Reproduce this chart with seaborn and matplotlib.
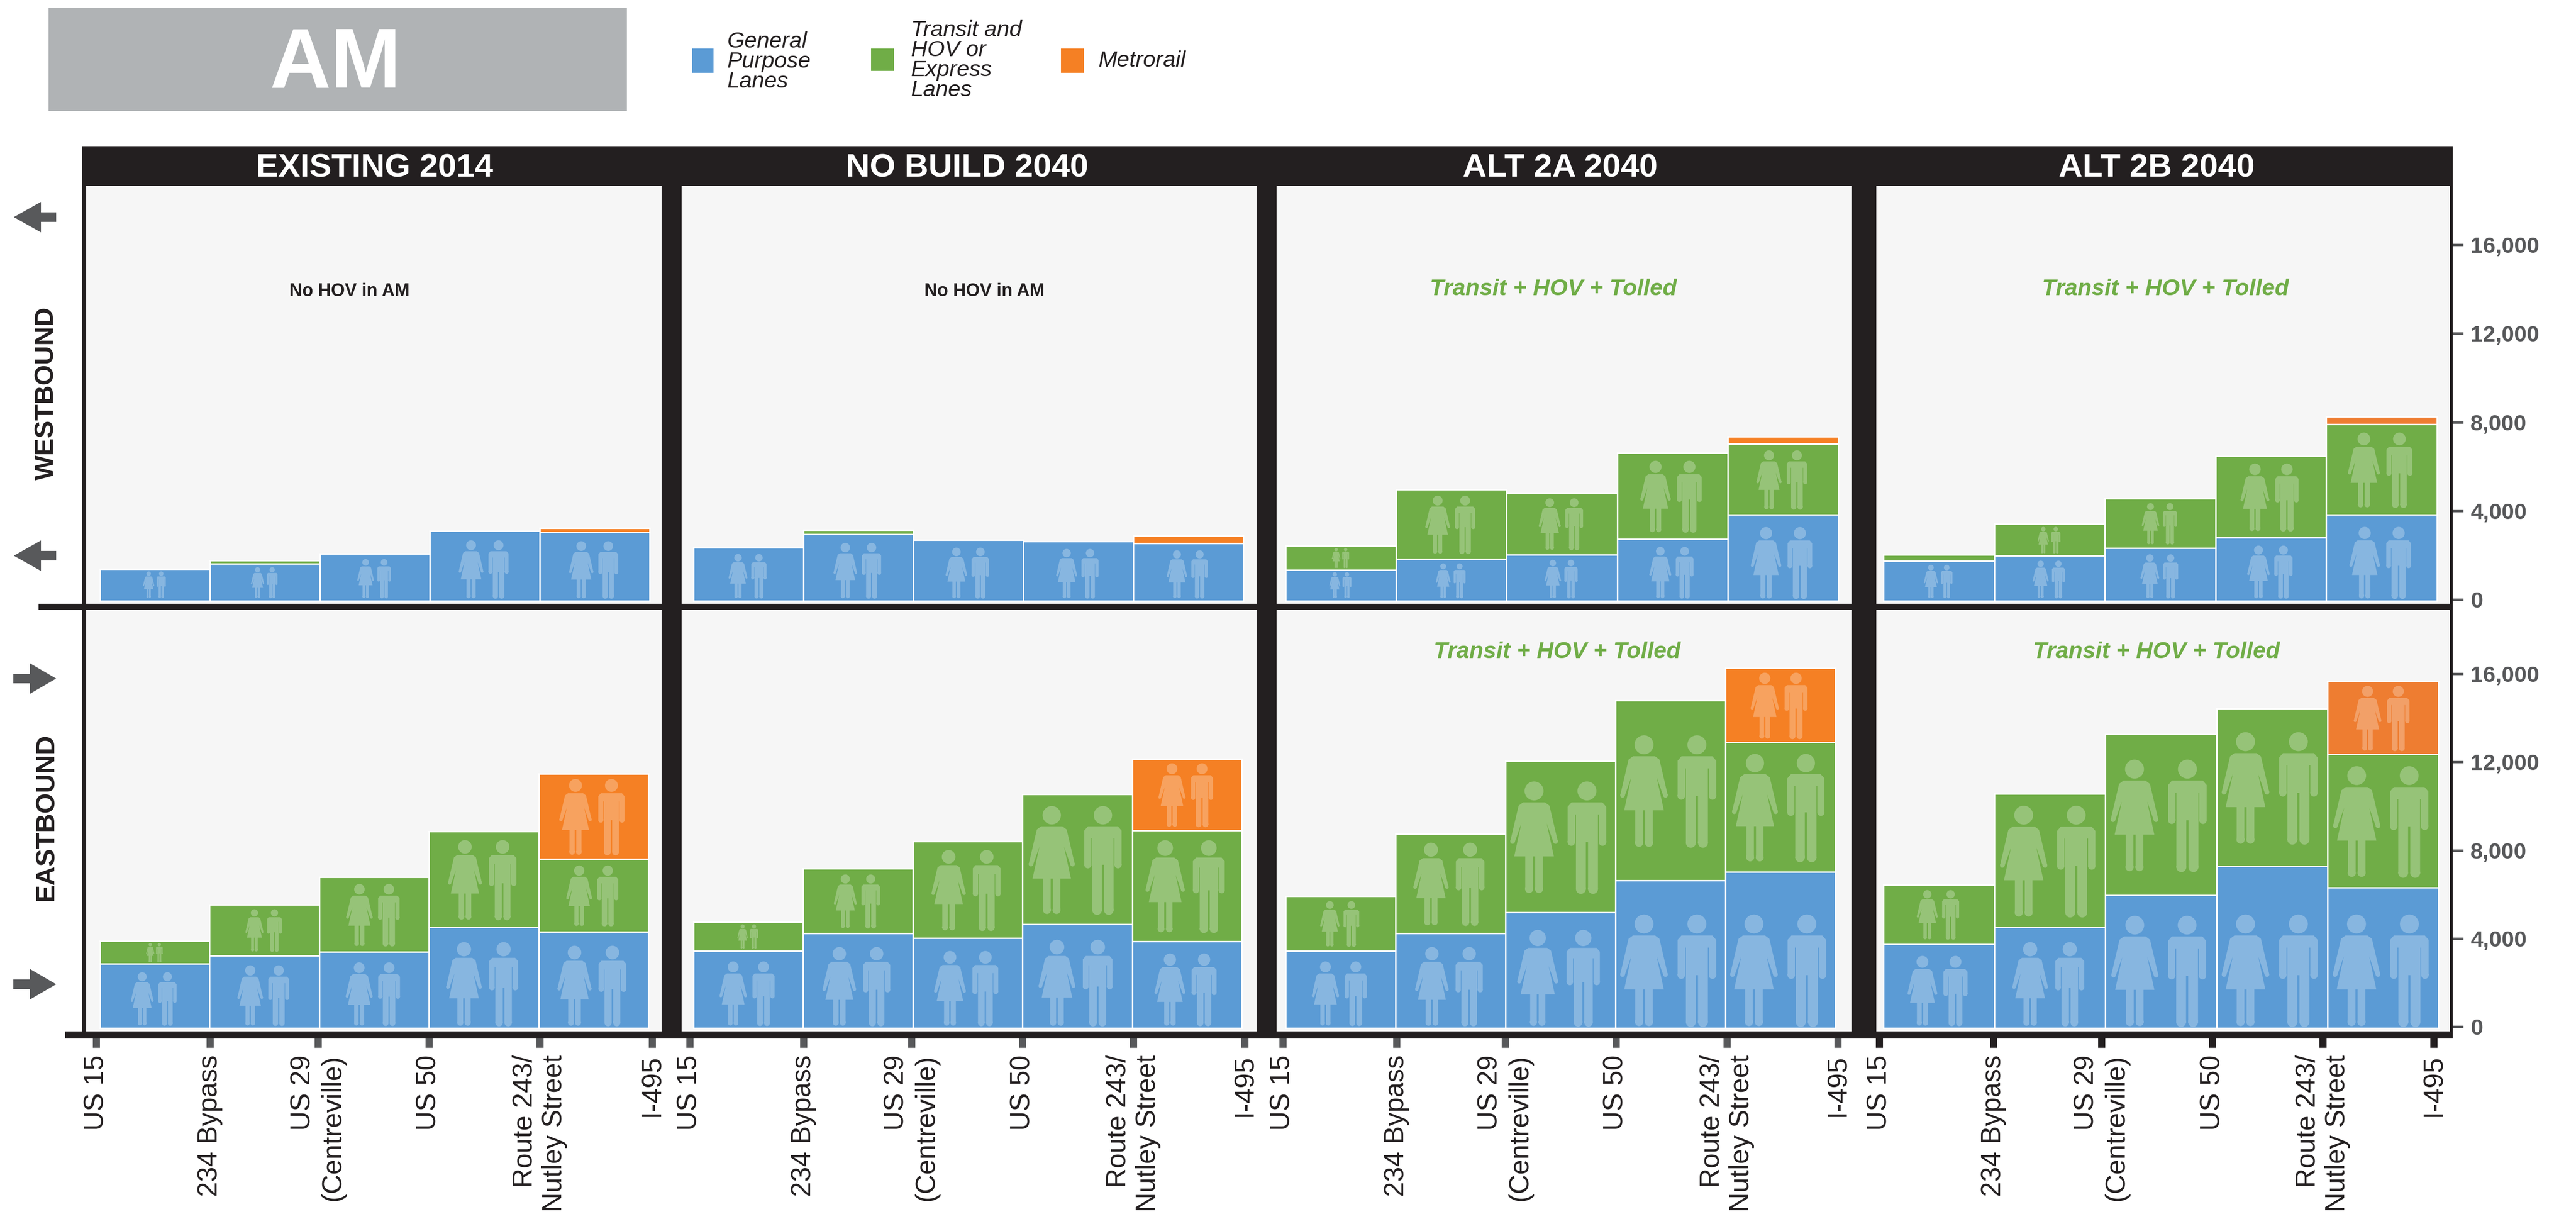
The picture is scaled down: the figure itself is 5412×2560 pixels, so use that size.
import pandas as pd
import numpy as np
import matplotlib.pyplot as plt
import matplotlib.patheffects as pe
import seaborn as sns
from matplotlib.patches import Rectangle, Polygon, PathPatch
from matplotlib.path import Path
from matplotlib.transforms import Affine2D

# road segments between the tick marks
segments = ["s1", "s2", "s3", "s4", "s5"]
tick_labels = ["US 15", "234 Bypass", "US 29\n(Centreville)", "US 50", "Route 243/\nNutley Street", "I-495"]
scenarios = ["EXISTING 2014", "NO BUILD 2040", "ALT 2A 2040", "ALT 2B 2040"]
y_ticks = [0, 4000, 8000, 12000, 16000]
y_labels = ["0", "4,000", "8,000", "12,000", "16,000"]

# westbound people per peak period
wb_existing_gp = [1440, 1675, 2120, 3150, 3100]
wb_existing_hov = [0, 150, 0, 0, 0]
wb_existing_metro = [0, 0, 0, 0, 180]
wb_nobuild_gp = [2400, 3010, 2750, 2680, 2600]
wb_nobuild_hov = [0, 190, 0, 0, 0]
wb_nobuild_metro = [0, 0, 0, 0, 345]
wb_2a_gp = [1400, 1880, 2080, 2790, 3880]
wb_2a_hov = [1090, 3150, 2800, 3880, 3200]
wb_2a_metro = [0, 0, 0, 0, 340]
wb_2b_gp = [1810, 2035, 2380, 2860, 3890]
wb_2b_hov = [270, 1435, 2230, 3665, 4070]
wb_2b_metro = [0, 0, 0, 0, 360]

# eastbound
eb_existing_gp = [2905, 3285, 3450, 4570, 4370]
eb_existing_hov = [1045, 2310, 3390, 4345, 3300]
eb_existing_metro = [0, 0, 0, 0, 3860]
eb_nobuild_gp = [3500, 4300, 4080, 4700, 3940]
eb_nobuild_hov = [1320, 2930, 4390, 5900, 5030]
eb_nobuild_metro = [0, 0, 0, 0, 3230]
eb_2a_gp = [3500, 4300, 5250, 6695, 7090]
eb_2a_hov = [2480, 4515, 6870, 8165, 5870]
eb_2a_metro = [0, 0, 0, 0, 3360]
eb_2b_gp = [3810, 4570, 6030, 7350, 6370]
eb_2b_hov = [2690, 6060, 7290, 7140, 6050]
eb_2b_metro = [0, 0, 0, 0, 3300]

wb_data = [(wb_existing_gp, wb_existing_hov, wb_existing_metro),
           (wb_nobuild_gp, wb_nobuild_hov, wb_nobuild_metro),
           (wb_2a_gp, wb_2a_hov, wb_2a_metro),
           (wb_2b_gp, wb_2b_hov, wb_2b_metro)]
eb_data = [(eb_existing_gp, eb_existing_hov, eb_existing_metro),
           (eb_nobuild_gp, eb_nobuild_hov, eb_nobuild_metro),
           (eb_2a_gp, eb_2a_hov, eb_2a_metro),
           (eb_2b_gp, eb_2b_hov, eb_2b_metro)]

# colours
BLUE = "#5b9bd5"
GREEN = "#70ad47"
ORANGE = "#f58024"
ORANGE_2B = "#ee7d31"
DARK = "#231f20"
GREY = "#58595b"
PANEL = "#f6f6f6"

# layout in pixels of the 5412x2560 picture
W, H = 5412, 2560
panel_x = [(181, 1390), (1432, 2640), (2682, 3891), (3942, 5147)]
bars_top = [(210, 1365), (1457, 2612), (2701, 3862), (3957, 5120)]
bars_bot = [(210, 1362), (1457, 2609), (2701, 3856), (3957, 5123)]
ticks_px = [[202, 441, 668, 901, 1134, 1370],
            [1449, 1688, 1915, 2148, 2381, 2615],
            [2695, 2934, 3162, 3395, 3628, 3861],
            [3948, 4188, 4415, 4648, 4880, 5113]]
# top, bottom, bar base, zero tick, px per unit
row_top = (390, 1268, 1262, 1259, 0.04656)
row_bot = (1281, 2166, 2159, 2156, 0.0463)

sns.set_theme(style="white")
plt.rcParams["font.family"] = ["Liberation Sans", "DejaVu Sans"]

fig = plt.figure(figsize=(W / 100, H / 100), dpi=100, facecolor="white")

# overlay in pixel coordinates for frame, arrows, legend
frame = fig.add_axes([0, 0, 1, 1], zorder=10)
frame.set_xlim(0, W)
frame.set_ylim(H, 0)
frame.axis("off")


def box(x0, y0, x1, y1, color=DARK):
    frame.add_patch(Rectangle((x0, y0), x1 - x0, y1 - y0, facecolor=color, edgecolor="none"))


# person pictograms, height 1, feet at y=0
woman_body = [(-.08, .02), (-.01, .02), (-.01, .32), (.01, .32), (.01, .02), (.08, .02), (.08, .32),
              (.18, .32), (.115, .62), (.175, .45), (.215, .46), (.14, .78), (.1, .81), (-.1, .81),
              (-.14, .78), (-.215, .46), (-.175, .45), (-.115, .62), (-.18, .32), (-.08, .32)]
man_body = [(-.1, .02), (-.01, .02), (-.01, .45), (.01, .45), (.01, .02), (.1, .02), (.1, .7), (.108, .7),
            (.108, .45), (.175, .45), (.175, .77), (.14, .81), (-.14, .81), (-.175, .77), (-.175, .45),
            (-.108, .45), (-.108, .7), (-.1, .7)]


def circle(x, y, r):
    return Path.circle((x, y), r)


def person(body, extras):
    poly = Path(body + [body[0]], closed=True)
    return Path.make_compound_path(poly, *[circle(*e) for e in extras])


woman = person(woman_body, [(0, .914, .086), (-.045, .025, .037), (.045, .025, .037),
                            (-.195, .455, .021), (.195, .455, .021)])
man = person(man_body, [(0, .914, .086), (-.055, .025, .045), (.055, .025, .045),
                        (-.1415, .45, .034), (.1415, .45, .034)])


def draw_people(ax, col, bottom, seg, px_x, px_y, kind):
    if seg < 500:
        return
    share = 0.88 if kind == "metro" else 0.82
    h_units = min(share * seg, 5000)
    h_px = h_units * px_y
    if kind == "gp":
        y0 = bottom + 150
    else:
        y0 = bottom + (seg - h_units) / 2
    for icon, dx in ((woman, -0.24), (man, 0.24)):
        tr = Affine2D().scale(h_px / px_x, h_units).translate(col + dx * h_px / px_x, y0) + ax.transData
        ax.add_patch(PathPatch(icon, transform=tr, facecolor="white", edgecolor="none", alpha=0.27, zorder=5))


def draw_panel(i, row, bars, data, show_ticks):
    top, bottom, base, zero, k = row
    left, right = panel_x[i]
    ax = fig.add_axes([left / W, 1 - bottom / H, (right - left) / W, (bottom - top) / H], facecolor=PANEL)
    gp, hov, metro = [np.array(v) for v in data]
    df = pd.DataFrame({"road": segments, "gp": gp, "hov": gp + hov, "metro": gp + hov + metro})
    orange = ORANGE_2B if i == 3 else ORANGE
    # stacked by painting the tallest total first
    for col, color in (("metro", orange), ("hov", GREEN), ("gp", BLUE)):
        sns.barplot(data=df, x="road", y=col, color=color, saturation=1, width=1, errorbar=None,
                    edgecolor="white", linewidth=2.2, ax=ax)
    l, r = bars
    px_x = (r - l) / 5
    ax.set_xlim(-0.5 - (l - left) / px_x, 4.5 + (right - r) / px_x)
    ax.set_ylim(-(bottom - base) / k, (base - top) / k)
    ax.set_xlabel("")
    ax.set_ylabel("")
    ax.set_yticks([])
    sns.despine(ax=ax, left=True, bottom=True)
    for c in range(5):
        draw_people(ax, c, 0, gp[c], px_x, k, "gp")
        draw_people(ax, c, gp[c], hov[c], px_x, k, "hov")
        draw_people(ax, c, gp[c] + hov[c], metro[c], px_x, k, "metro")
    if show_ticks:
        pos = [(p - l) / px_x - 0.5 for p in ticks_px[i]]
        labs = ax.set_xticks(pos, tick_labels, rotation=90, ha="center", va="top", multialignment="right",
                             fontsize=41, color=DARK)
        for lab in labs:
            lab.set_path_effects([pe.withStroke(linewidth=1.2, foreground=DARK)])
        ax.tick_params(axis="x", bottom=True, length=24.5, width=10.8, pad=10.8,
                       color=DARK if i == 3 else GREY)
    else:
        ax.set_xticks([])
    if i == 3:
        tw = ax.twinx()
        tw.set_ylim(-(bottom - zero) / k, (zero - top) / k)
        tw.set_yticks(y_ticks, y_labels, fontsize=34, fontweight="bold", color=GREY)
        tw.tick_params(axis="y", right=True, length=20, width=3.6, pad=10.8, color=GREY)
        sns.despine(ax=tw, left=True, bottom=True, right=True)
    return ax


for i in range(4):
    draw_panel(i, row_top, bars_top[i], wb_data[i], False)
    draw_panel(i, row_bot, bars_bot[i], eb_data[i], True)

# black frame
box(172, 307, 5153, 390)
box(172, 390, 181, 2181)
box(1390, 390, 1432, 2181)
box(2640, 390, 2682, 2181)
box(3891, 390, 3942, 2181)
box(5147, 390, 5153, 2181)
box(81, 1268, 5153, 1281)
box(137, 2166, 5153, 2181)

# column headers
for name, x in zip(scenarios, [787, 2032, 3278, 4531]):
    frame.text(x, 354, name, color="white", fontsize=50, fontweight="bold", ha="center", va="center")

# title block
box(102, 16, 1317, 233, "#b0b3b5")
frame.text(705, 137, "AM", color="white", fontsize=128, fontweight="bold", ha="center", va="center")

# legend
box(1454, 102, 1499, 153, BLUE)
box(1830, 102, 1878, 149, GREEN)
box(2229, 102, 2277, 153, ORANGE)
leg_kw = dict(fontsize=34, style="italic", color=DARK, ha="left", va="center", linespacing=0.94)
frame.text(1528, 130, "General\nPurpose\nLanes", **leg_kw)
frame.text(1914, 127, "Transit and\nHOV or\nExpress\nLanes", **leg_kw)
frame.text(2308, 128, "Metrorail", **leg_kw)

# panel notes
note_kw = dict(ha="center", va="center")
frame.text(734, 612, "No HOV in AM", fontsize=27, fontweight="bold", color=DARK, **note_kw)
frame.text(2068, 612, "No HOV in AM", fontsize=27, fontweight="bold", color=DARK, **note_kw)
green_kw = dict(fontsize=35, fontweight="bold", style="italic", color=GREEN, **note_kw)
frame.text(3263, 608, "Transit + HOV + Tolled", **green_kw)
frame.text(4549, 608, "Transit + HOV + Tolled", **green_kw)
frame.text(3271, 1370, "Transit + HOV + Tolled", **green_kw)
frame.text(4530, 1370, "Transit + HOV + Tolled", **green_kw)

# direction labels and arrows
frame.text(98, 826, "WESTBOUND", rotation=90, fontsize=40, fontweight="bold", color=DARK, **note_kw)
frame.text(98, 1716, "EASTBOUND", rotation=90, fontsize=40, fontweight="bold", color=DARK, **note_kw)


def arrow(y, direction):
    if direction == "left":
        xs = [29, 86, 86, 118, 118, 86, 86]
    else:
        xs = [118, 63, 63, 28, 28, 63, 63]
    ys = [y, y - 32, y - 10, y - 10, y + 10, y + 10, y + 32]
    frame.add_patch(Polygon(list(zip(xs, ys)), closed=True, facecolor=GREY, edgecolor="none"))


arrow(456, "left")
arrow(1167, "left")
arrow(1425, "right")
arrow(2067, "right")

fig.savefig("out.png", dpi=100)
